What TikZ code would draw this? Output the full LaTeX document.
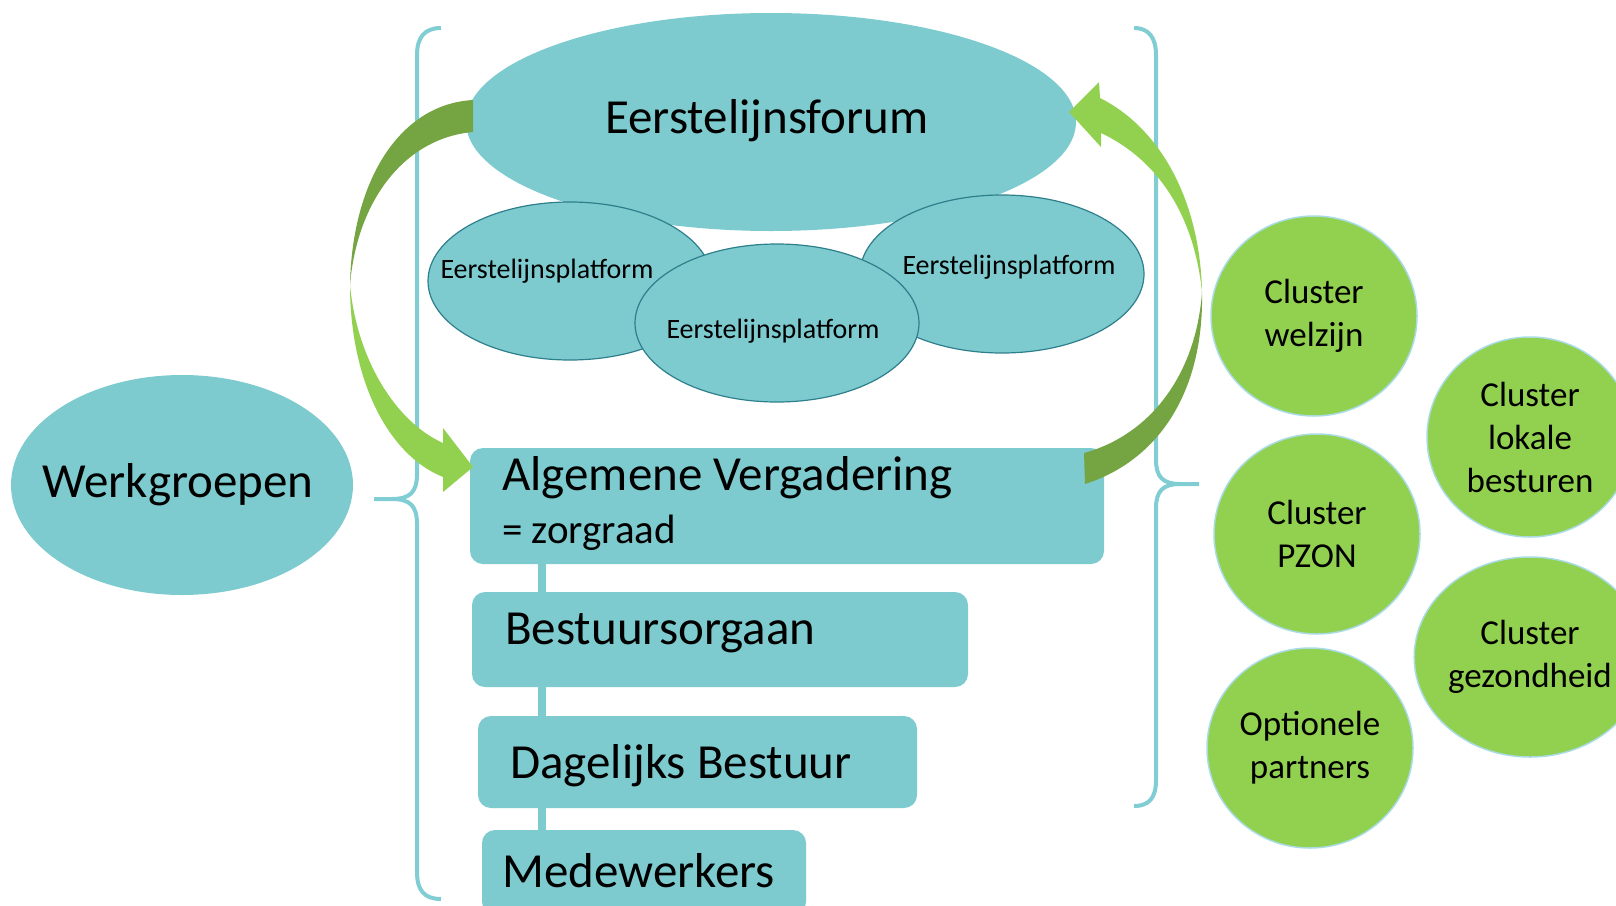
\documentclass[tikz,border=0pt]{standalone}
\usepackage{fontspec}
\setmainfont{Carlito}
\usetikzlibrary{shapes.geometric}
\definecolor{tealfill}{HTML}{7DCBCF}
\definecolor{tealline}{HTML}{2E7F8C}
\definecolor{bracecol}{HTML}{80CDD4}
\definecolor{greenfill}{HTML}{92D050}
\definecolor{greendark}{HTML}{74A542}
\definecolor{ringcol}{HTML}{A8DCE2}
\newcommand{\fontbig}{\fontsize{49}{59}\selectfont}
\newcommand{\fontmid}{\fontsize{41}{49}\selectfont}
\newcommand{\fontplat}{\fontsize{28}{34}\selectfont}
\newcommand{\fontclus}{\fontsize{35}{43}\selectfont}

\begin{document}
\begin{tikzpicture}[x=1pt,y=-1pt,
  forum/.style={ellipse,fill=tealfill,inner sep=0pt},
  platform/.style={ellipse,fill=tealfill,draw=tealline,line width=1.2pt,minimum width=284pt,minimum height=158pt,inner sep=0pt},
  orgbox/.style={rectangle,rounded corners=13pt,fill=tealfill,inner sep=0pt},
  cluster/.style={ellipse,fill=greenfill,draw=ringcol,line width=1.5pt,minimum width=206pt,minimum height=200pt,inner sep=0pt,align=center,font=\fontclus},
  bracket/.style={draw=bracecol,line width=4pt},
  stem/.style={draw=tealfill,line width=8pt},
  lbl/.style={anchor=west,inner sep=0pt,font=\fontbig}]
\useasboundingbox (0,0) rectangle (1616,905);

 % forum and platforms
 \node[forum,minimum width=610pt,minimum height=218pt] (forum) at (771,122) {};
 \node[font=\fontbig] (forumtxt) at (767,121) {Eerstelijnsforum};
 \node[platform] (platL) at (570,281) {};
 \node[platform] (platR) at (1002,274) {};
 \node[platform] (platM) at (777,323) {};
 \node[font=\fontplat] (platLtxt) at (547,271) {Eerstelijnsplatform};
 \node[font=\fontplat] (platRtxt) at (1009,267) {Eerstelijnsplatform};
 \node[font=\fontplat] (platMtxt) at (773,331) {Eerstelijnsplatform};

 \node[forum,minimum width=342pt,minimum height=220pt] (werk) at (182,485) {};
 \node[font=\fontbig] (werktxt) at (178,485) {Werkgroepen};

 % braces
 \draw[bracket] (441,28) .. controls (424,28) and (417,38) .. (417,55) -- (417,474)
   .. controls (417,492) and (410,499) .. (392,499) -- (374,499);
 \draw[bracket] (392,499) .. controls (410,499) and (417,506) .. (417,524) -- (417,872)
   .. controls (417,890) and (424,899) .. (441,899);
 \draw[bracket] (1134,28) .. controls (1149,28) and (1156,38) .. (1156,55) -- (1156,460)
   .. controls (1156,477) and (1163,484) .. (1180,484) -- (1199,484);
 \draw[bracket] (1180,484) .. controls (1163,484) and (1156,491) .. (1156,508) -- (1156,780)
   .. controls (1156,798) and (1149,806) .. (1134,806);

 % organs
 \coordinate (stemx) at (542,0);
 \node[orgbox,minimum width=634pt,minimum height=116pt] (av) at (787,506) {};
 \node[orgbox,minimum width=496pt,minimum height=95pt] (bo) at (720,639.5) {};
 \node[orgbox,minimum width=439pt,minimum height=92pt] (db) at (697.5,762) {};
 \node[orgbox,minimum width=324pt,minimum height=85pt] (mw) at (644,872.5) {};
 \draw[stem] (av.south -| stemx) -- (bo.north -| stemx);
 \draw[stem] (bo.south -| stemx) -- (db.north -| stemx);
 \draw[stem] (db.south -| stemx) -- (mw.north -| stemx);
 \node[lbl] (avtxt) at (502,478) {Algemene Vergadering};
 \node[lbl,font=\fontmid] (avsub) at (502,533) {= zorgraad};
 \node[lbl] (botxt) at (505,633) {Bestuursorgaan};
 \node[lbl] (dbtxt) at (510,766) {Dagelijks Bestuur};
 \node[lbl] (mwtxt) at (502,871) {Medewerkers};

 % curved arrows
 \fill[greendark] (473,100) .. controls (400,104) and (352,180) .. (350,285)
   .. controls (357,200) and (405,138) .. (473,132) -- cycle;
 \fill[greenfill] (350,285) .. controls (350,380) and (388,455) .. (443,477) -- (443,492)
   -- (473,467) -- (443,428) -- (443,443) .. controls (396,422) and (357,360) .. (350,285) -- cycle;
 \fill[greenfill] (1100,98) .. controls (1160,128) and (1200,200) .. (1202,292)
   .. controls (1194,215) and (1158,160) .. (1101,133) -- (1101,147) -- (1069,112) -- (1099,82) -- cycle;
 \fill[greendark] (1202,292) .. controls (1204,390) and (1160,460) .. (1085,484) -- (1084,453)
   .. controls (1150,435) and (1196,375) .. (1202,292) -- cycle;

 % clusters
 \node[cluster] (welzijn) at (1314,316) {Cluster\\welzijn};
 \node[cluster] (lokaal) at (1530,437) {Cluster\\lokale\\besturen};
 \node[cluster] (pzon) at (1317,534) {Cluster\\PZON};
 \node[cluster] (gezond) at (1530,657) {Cluster\\gezondheid};
 \node[cluster] (partners) at (1310,748) {Optionele\\partners};

\end{tikzpicture}
\end{document}
